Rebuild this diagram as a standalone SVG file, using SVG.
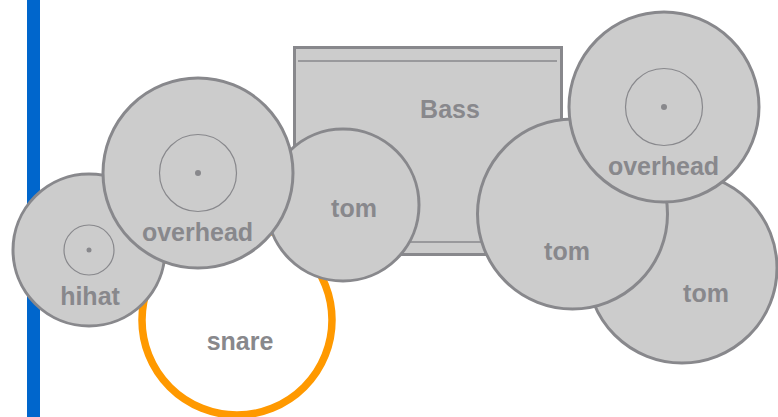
<svg xmlns="http://www.w3.org/2000/svg" width="778" height="417" viewBox="0 0 778 417">
<style>
.drum{fill:#cccccc;stroke:#88888c;stroke-width:3}
.inner{fill:none;stroke:#88888c;stroke-width:1.2}
.dot{fill:#88888c}
.line{stroke:#88888c;stroke-width:1.5}
.lbl{font-family:"Liberation Sans",Arial,sans-serif;font-weight:bold;font-size:25px;fill:#88888c;text-anchor:middle}
</style>
<rect width="778" height="417" fill="#ffffff"/>
<rect id="bar" x="27" y="0" width="13" height="417" fill="#0066cc"/>
<g id="bass">
<rect class="drum" x="294.5" y="47.5" width="267" height="207"/>
<line class="line" x1="298" y1="61" x2="557" y2="61"/>
<line class="line" x1="298" y1="242" x2="557" y2="242"/>
<text class="lbl" x="450" y="118">Bass</text>
</g>
<g id="snare">
<circle cx="237" cy="320" r="95" fill="#ffffff" stroke="#ff9900" stroke-width="7.5"/>
<text class="lbl" x="240" y="350">snare</text>
</g>
<g id="tom3">
<circle class="drum" cx="682" cy="268" r="95"/>
<text class="lbl" x="706" y="302">tom</text>
</g>
<g id="tom2">
<circle class="drum" cx="572.5" cy="214" r="95"/>
<text class="lbl" x="567" y="260">tom</text>
</g>
<g id="tom1">
<circle class="drum" cx="343" cy="205" r="76"/>
<text class="lbl" x="354" y="217">tom</text>
</g>
<g id="hihat">
<circle class="drum" cx="89" cy="250" r="76"/>
<circle class="inner" cx="89" cy="250" r="25"/>
<circle class="dot" cx="89" cy="250" r="2.5"/>
<text class="lbl" x="90" y="305">hihat</text>
</g>
<g id="overheadL">
<circle class="drum" cx="198" cy="173" r="95"/>
<circle class="inner" cx="198" cy="173" r="38.5"/>
<circle class="dot" cx="198" cy="173" r="3"/>
<text class="lbl" x="197.5" y="241">overhead</text>
</g>
<g id="overheadR">
<circle class="drum" cx="664" cy="107" r="95"/>
<circle class="inner" cx="664" cy="107" r="38.5"/>
<circle class="dot" cx="664" cy="107" r="3"/>
<text class="lbl" x="663.5" y="175">overhead</text>
</g>
<g id="connectors"/>
</svg>
